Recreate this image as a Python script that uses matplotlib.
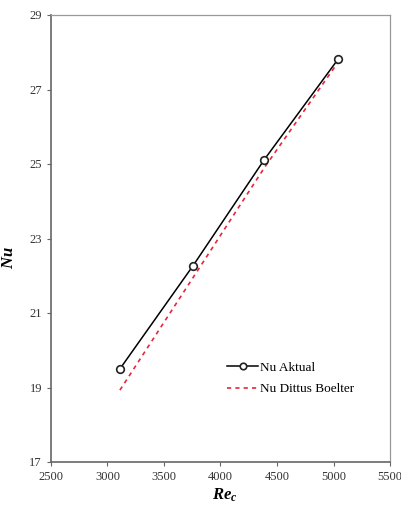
import matplotlib.pyplot as plt

plt.rcParams['font.family'] = ['Liberation Serif', 'DejaVu Serif']
plt.rcParams['mathtext.fontset'] = 'custom'
plt.rcParams['mathtext.it'] = 'Liberation Serif:italic:bold'
plt.rcParams['mathtext.rm'] = 'Liberation Serif:italic:bold'

re_c = [3110, 3757, 4388, 5042]
nu_aktual = [19.50, 22.27, 25.12, 27.82]
nu_dittus = [18.93, 21.95, 24.90, 27.74]

fig = plt.figure(figsize=(4.01, 5.05), dpi=100)
ax = fig.add_axes([51 / 401, 1 - 462 / 505, 339 / 401, 447 / 505])

ax.plot(re_c, nu_aktual, color='black', lw=1.1, marker='o', ms=5.5,
        mfc='white', mec='#222222', mew=1.2, label='Nu Aktual', zorder=3)
ax.plot(re_c, nu_dittus, color='#e8253a', lw=1.2, ls=(0, (2.5, 2.5)),
        label='Nu Dittus Boelter', zorder=2)

ax.set_xlim(2500, 5500)
ax.set_ylim(17, 29)
ax.set_xticks(range(2500, 5501, 500))
ax.set_yticks(range(17, 30, 2))
ax.tick_params(direction='out', length=3, width=0.8, color='#666666',
               labelsize=9, labelcolor='#333333')
for s in ax.spines.values():
    s.set_color('#999999')
    s.set_linewidth(0.9)
ax.spines['left'].set_color('#666666')
ax.spines['bottom'].set_color('#666666')
ax.spines['left'].set_linewidth(1.2)
ax.spines['bottom'].set_linewidth(1.2)

ax.set_xlabel(r'$Re_c$', fontsize=12)
ax.set_ylabel(r'$Nu$', fontsize=12)
ax.xaxis.set_label_coords((225 - 51) / 339, -0.055)
ax.yaxis.set_label_coords(-0.1, (462 - 258) / 447)

leg = ax.legend(loc='upper left', bbox_to_anchor=(0.505, 0.236), frameon=False,
                fontsize=9.5, handlelength=2.3, handletextpad=0.15,
                labelspacing=0.7, borderaxespad=0, markerscale=0.85)

fig.savefig('out.png', dpi=100)
